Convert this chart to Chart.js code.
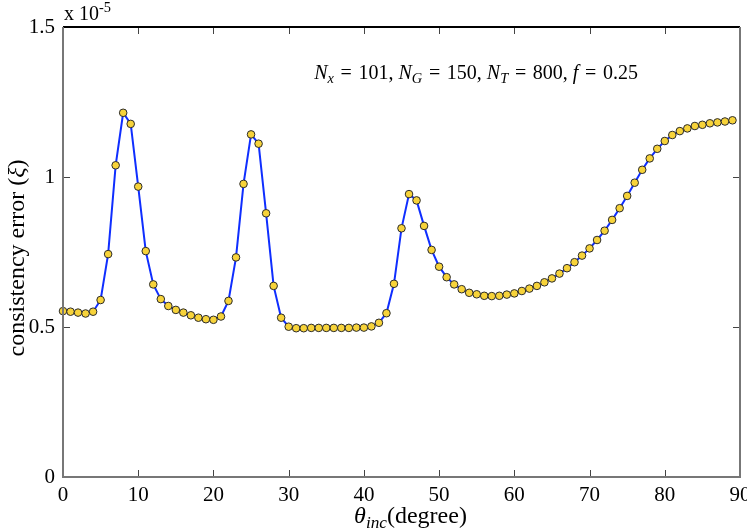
<!DOCTYPE html>
<html>
<head>
<meta charset="utf-8">
<script src="https://cdn.jsdelivr.net/npm/chart.js@4"></script>
<style>
  html, body { margin: 0; padding: 0; background: #fff; }
  #wrap { width: 747px; height: 532px; }
</style>
</head>
<body>
<div id="wrap"><canvas id="errChart" width="747" height="532"></canvas></div>
<script>
// incidence angle (degree)
const angles = [
  0, 1, 2, 3, 4, 5, 6, 7, 8, 9,
  10, 11, 12, 13, 14, 15, 16, 17, 18, 19,
  20, 21, 22, 23, 24, 25, 26, 27, 28, 29,
  30, 31, 32, 33, 34, 35, 36, 37, 38, 39,
  40, 41, 42, 43, 44, 45, 46, 47, 48, 49,
  50, 51, 52, 53, 54, 55, 56, 57, 58, 59,
  60, 61, 62, 63, 64, 65, 66, 67, 68, 69,
  70, 71, 72, 73, 74, 75, 76, 77, 78, 79,
  80, 81, 82, 83, 84, 85, 86, 87, 88, 89
];

// consistency error, in units of 1e-5
const consistencyError = [
  0.553, 0.551, 0.548, 0.545, 0.551, 0.590, 0.743, 1.039, 1.214, 1.177,
  0.968, 0.753, 0.642, 0.593, 0.570, 0.557, 0.548, 0.539, 0.531, 0.526,
  0.524, 0.535, 0.587, 0.732, 0.977, 1.142, 1.111, 0.879, 0.637, 0.531,
  0.501, 0.496, 0.496, 0.497, 0.497, 0.497, 0.497, 0.497, 0.497, 0.498,
  0.498, 0.502, 0.514, 0.546, 0.644, 0.829, 0.943, 0.922, 0.837, 0.757,
  0.701, 0.666, 0.642, 0.626, 0.614, 0.609, 0.604, 0.603, 0.604, 0.608,
  0.612, 0.620, 0.628, 0.637, 0.649, 0.662, 0.678, 0.696, 0.716, 0.738,
  0.762, 0.790, 0.821, 0.857, 0.896, 0.937, 0.981, 1.024, 1.062, 1.094,
  1.120, 1.140, 1.153, 1.162, 1.170, 1.174, 1.179, 1.182, 1.185, 1.189
];

const xTicks = [0, 10, 20, 30, 40, 50, 60, 70, 80, 90];
const yTicks = [0, 0.5, 1, 1.5];

const serif = '"Liberation Serif", "Times New Roman", serif';
const eq = '\u2004=\u2004';

// draw a run of text pieces: [text, italic, shift]
function drawRun(ctx, pieces, x, y, size, align) {
  const widths = pieces.map(p => {
    const s = p[2] ? size * 0.72 : size;
    ctx.font = (p[1] ? 'italic ' : '') + s + 'px ' + serif;
    return ctx.measureText(p[0]).width;
  });
  const total = widths.reduce((a, b) => a + b, 0);
  let cx = align === 'right' ? x - total : align === 'center' ? x - total / 2 : x;
  pieces.forEach((p, i) => {
    const s = p[2] ? size * 0.72 : size;
    ctx.font = (p[1] ? 'italic ' : '') + s + 'px ' + serif;
    ctx.fillText(p[0], cx, y + (p[2] || 0));
    cx += widths[i];
  });
}

const framePlugin = {
  id: 'frame',
  afterDraw(chart) {
    const { ctx, chartArea: a, scales } = chart;
    const xs = scales.x, ys = scales.y;
    ctx.save();

    // inward tick marks on all four sides
    ctx.strokeStyle = '#444';
    ctx.lineWidth = 1;
    ctx.beginPath();
    xTicks.forEach(v => {
      const px = Math.round(xs.getPixelForValue(v)) + 0.5;
      ctx.moveTo(px, a.bottom); ctx.lineTo(px, a.bottom - 7);
      ctx.moveTo(px, a.top); ctx.lineTo(px, a.top + 7);
    });
    yTicks.forEach(v => {
      const py = Math.round(ys.getPixelForValue(v)) + 0.5;
      ctx.moveTo(a.left, py); ctx.lineTo(a.left + 7, py);
      ctx.moveTo(a.right, py); ctx.lineTo(a.right - 7, py);
    });
    ctx.stroke();

    // box
    ctx.lineWidth = 2;
    ctx.strokeStyle = '#000';
    ctx.beginPath();
    ctx.moveTo(a.left, a.top); ctx.lineTo(a.right, a.top);
    ctx.stroke();
    ctx.strokeStyle = '#777';
    ctx.beginPath();
    ctx.moveTo(a.right, a.top); ctx.lineTo(a.right, a.bottom);
    ctx.lineTo(a.left, a.bottom); ctx.lineTo(a.left, a.top);
    ctx.stroke();

    ctx.fillStyle = '#000';
    ctx.textBaseline = 'alphabetic';

    // exponent label
    drawRun(ctx, [['x 10', false, 0], ['-5', false, -8]], a.left + 1, 20, 20, 'left');

    // annotation
    drawRun(ctx, [
      ['N', true, 0], ['x', true, 4], [eq + '101, ', false, 0],
      ['N', true, 0], ['G', true, 4], [eq + '150, ', false, 0],
      ['N', true, 0], ['T', true, 4], [eq + '800, ', false, 0],
      ['f', true, 0], [eq + '0.25', false, 0]
    ], 638, 79, 20, 'right');

    // x title
    drawRun(ctx, [['\u03b8', true, 0], ['inc', true, 5], ['(degree)', false, 0]],
      (a.left + a.right) / 2 + 9, 523, 24, 'center');

    // y title
    ctx.translate(24, (a.top + a.bottom) / 2 + 6);
    ctx.rotate(-Math.PI / 2);
    drawRun(ctx, [['consistency error (', false, 0], ['\u03be', true, 0], [')', false, 0]],
      0, 0, 24, 'center');
    ctx.restore();
  }
};

const points = angles.map((a, i) => ({ x: a, y: consistencyError[i] }));

new Chart(document.getElementById('errChart'), {
  type: 'line',
  data: {
    datasets: [{
      data: points,
      borderColor: '#0f2eff',
      borderWidth: 2,
      pointRadius: 3.8,
      pointBackgroundColor: '#f7d33a',
      pointBorderColor: '#2a2a2a',
      pointBorderWidth: 1,
      tension: 0,
      clip: false
    }]
  },
  options: {
    responsive: false,
    animation: false,
    events: [],
    layout: { padding: { left: 0, right: 7, top: 27, bottom: 0 } },
    plugins: { legend: { display: false }, tooltip: { enabled: false } },
    scales: {
      x: {
        type: 'linear',
        min: 0, max: 90,
        grid: { display: false, drawTicks: false },
        border: { display: false },
        afterBuildTicks(s) { s.ticks = xTicks.map(v => ({ value: v })); },
        afterFit(s) { s.height = 55; s.paddingLeft = 0; s.paddingRight = 0; },
        ticks: { color: '#000', padding: 6, maxRotation: 0, font: { family: serif, size: 21 },
                 callback: v => String(v) }
      },
      y: {
        min: 0, max: 1.5,
        grid: { display: false, drawTicks: false },
        border: { display: false },
        afterBuildTicks(s) { s.ticks = yTicks.map(v => ({ value: v })); },
        afterFit(s) { s.width = 63; s.paddingTop = 0; s.paddingBottom = 0; },
        ticks: { color: '#000', padding: 8, font: { family: serif, size: 21 },
                 callback: v => String(v) }
      }
    }
  },
  plugins: [framePlugin]
});
</script>
</body>
</html>
